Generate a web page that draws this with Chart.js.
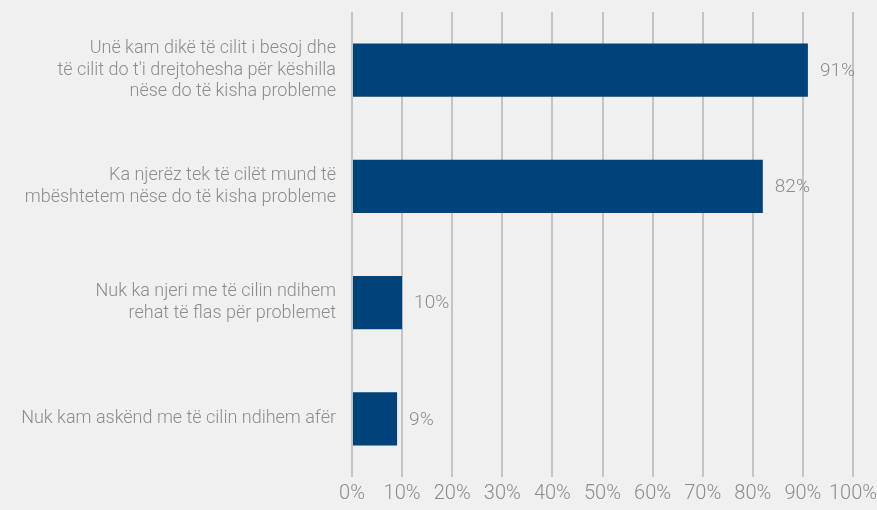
<!DOCTYPE html>
<html>
<head>
<meta charset="utf-8">
<script src="https://cdn.jsdelivr.net/npm/chart.js@4"></script>
<style>
  html, body { margin: 0; padding: 0; background: #f0f0f0; }
  #wrap { width: 877px; height: 510px; }
</style>
</head>
<body>
<div id="wrap"><canvas id="chart"></canvas></div>
<script>
var categories = [
    ['Unë kam dikë të cilit i besoj dhe', "të cilit do t'i drejtohesha për këshilla", 'nëse do të kisha probleme'],
    ['Ka njerëz tek të cilët mund të', 'mbështetem nëse do të kisha probleme'],
    ['Nuk ka njeri me të cilin ndihem', 'rehat të flas për problemet'],
    'Nuk kam askënd me të cilin ndihem afër'
];
var values = [91, 82, 10, 9];
var tickLabels = ['0%', '10%', '20%', '30%', '40%', '50%', '60%', '70%', '80%', '90%', '100%'];

var fontFamily = "'Roboto', sans-serif";
var textColor = '#8c8c8c';

// draws the percentage next to each bar
var valueLabels = {
    id: 'valueLabels',
    afterDatasetsDraw: function (chart) {
        var ctx = chart.ctx;
        var meta = chart.getDatasetMeta(0);
        ctx.save();
        ctx.font = '300 19px ' + fontFamily;
        ctx.fillStyle = textColor;
        ctx.textBaseline = 'middle';
        ctx.textAlign = 'left';
        meta.data.forEach(function (bar, i) {
            ctx.fillText(values[i] + '%', bar.x + 12, bar.y + 1);
        });
        ctx.restore();
    }
};

var ctx = document.getElementById('chart').getContext('2d');
new Chart(ctx, {
    type: 'bar',
    data: {
        labels: categories,
        datasets: [{
            data: values,
            backgroundColor: '#00437a',
            categoryPercentage: 0.46,
            barPercentage: 1
        }]
    },
    options: {
        indexAxis: 'y',
        responsive: true,
        maintainAspectRatio: false,
        animation: false,
        layout: { padding: { top: 12, right: 24, bottom: 0, left: 0 } },
        plugins: {
            legend: { display: false },
            tooltip: { enabled: false }
        },
        scales: {
            x: {
                min: 0,
                max: 100,
                ticks: {
                    stepSize: 10,
                    padding: 5,
                    maxRotation: 0,
                    autoSkip: false,
                    color: textColor,
                    font: { family: fontFamily, size: 20, weight: 300 },
                    callback: function (v, i) { return tickLabels[i]; }
                },
                grid: { color: '#c4c4c4', lineWidth: 2, drawTicks: false },
                border: { display: false },
                afterFit: function (scale) {
                    scale.height = 33;
                    scale.paddingLeft = 0;
                    scale.paddingRight = 0;
                }
            },
            y: {
                ticks: {
                    padding: 8,
                    color: textColor,
                    font: { family: fontFamily, size: 18, lineHeight: 1.2, weight: 300 }
                },
                grid: { display: false },
                border: { display: false },
                afterFit: function (scale) {
                    scale.width = 352;
                    scale.paddingTop = 0;
                    scale.paddingBottom = 0;
                }
            }
        }
    },
    plugins: [valueLabels]
});
</script>
</body>
</html>
